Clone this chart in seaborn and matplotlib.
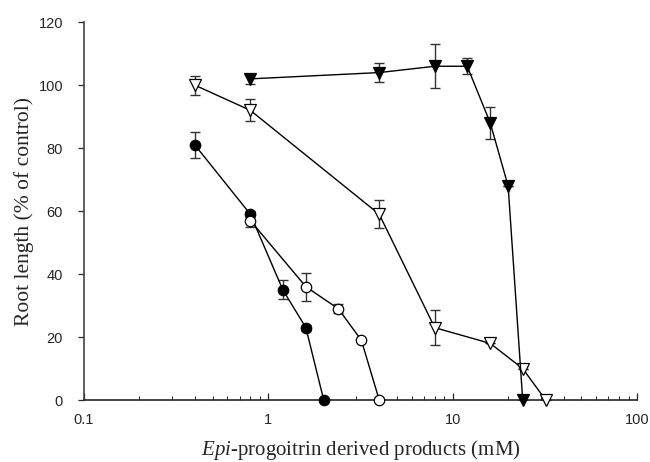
import numpy as np
import pandas as pd
import matplotlib
matplotlib.use("Agg")
import matplotlib.pyplot as plt
import seaborn as sns
from matplotlib.ticker import FixedLocator, FixedFormatter, LogLocator, NullFormatter

# Data
fc_x = [0.4, 0.8, 1.2, 1.6, 2.0]
fc_y = [81, 59, 35, 23, 0]
fc_e = [4, 1, 3, 1, 0]

oc_x = [0.8, 1.6, 2.4, 3.2, 4.0]
oc_y = [57, 36, 29, 19, 0]
oc_e = [2, 4.5, 1.5, 0, 0]

ot_x = [0.4, 0.8, 4, 8, 16, 24, 32]
ot_y = [100, 92, 59, 23, 18, 10, 0]
ot_e = [3, 3.5, 4.5, 5.5, 0, 0, 0]

ft_x = [0.8, 4, 8, 12, 16, 20, 24]
ft_y = [102, 104, 106, 106, 88, 68, 0]
ft_e = [1.5, 3, 7, 2.5, 5, 0, 0]

y_ticks = [0, 20, 40, 60, 80, 100, 120]
x_ticks = [0.1, 1, 10, 100]
x_tick_labels = ["0.1", "1", "10", "100"]

sns.set_style("ticks")
plt.rcParams["font.family"] = ["Liberation Sans", "DejaVu Sans"]
plt.rcParams["mathtext.fontset"] = "custom"
plt.rcParams["mathtext.rm"] = "Liberation Serif"
plt.rcParams["mathtext.it"] = "Liberation Serif:italic"

fig = plt.figure(figsize=(6.5, 4.62), dpi=100)
ax = fig.add_axes([0.129, 0.134, 0.851, 0.818])

series = [
    (fc_x, fc_y, fc_e, "o", "black", 7.5),
    (oc_x, oc_y, oc_e, "o", "white", 7.5),
    (ot_x, ot_y, ot_e, "v", "white", 8.5),
    (ft_x, ft_y, ft_e, "v", "black", 8.5),
]

for xs, ys, es, m, fc, ms in series:
    df = pd.DataFrame({"x": xs, "y": ys})
    ax.errorbar(xs, ys, yerr=es, fmt="none", ecolor="#333333", elinewidth=1.0,
                capsize=3.5, capthick=1.0, zorder=2)
    sns.lineplot(data=df, x="x", y="y", ax=ax, color="black", linewidth=1.0,
                 marker=m, markersize=ms, markerfacecolor=fc,
                 markeredgecolor="black", markeredgewidth=0.9, zorder=3,
                 clip_on=False)

ax.set_xscale("log")
ax.set_xlim(0.1, 100)
ax.set_ylim(0, 120)
ax.xaxis.set_major_locator(FixedLocator(x_ticks))
ax.xaxis.set_major_formatter(FixedFormatter(x_tick_labels))
ax.xaxis.set_minor_locator(LogLocator(base=10, subs=np.arange(2, 10)))
ax.xaxis.set_minor_formatter(NullFormatter())
ax.set_yticks(y_ticks)

ax.tick_params(axis="x", which="major", direction="in", length=5, width=0.9,
               labelsize=10.5, pad=9)
ax.tick_params(axis="x", which="minor", direction="in", length=3, width=0.7)
ax.tick_params(axis="y", which="major", direction="out", length=4, width=0.9,
               labelsize=10.5, pad=11)

for s in ["top", "right"]:
    ax.spines[s].set_visible(False)
ax.spines["left"].set_linewidth(1.2)
ax.spines["left"].set_color("#444444")
ax.spines["bottom"].set_linewidth(1.2)

ax.set_ylabel("Root length (% of control)", fontsize=15.5,
              family=["Liberation Serif", "DejaVu Serif"], labelpad=3)
ax.set_xlabel(r"$\mathit{Epi}$-progoitrin derived products (mM)", fontsize=15,
              family=["Liberation Serif", "DejaVu Serif"], labelpad=8)

fig.savefig("out.png", dpi=100)
